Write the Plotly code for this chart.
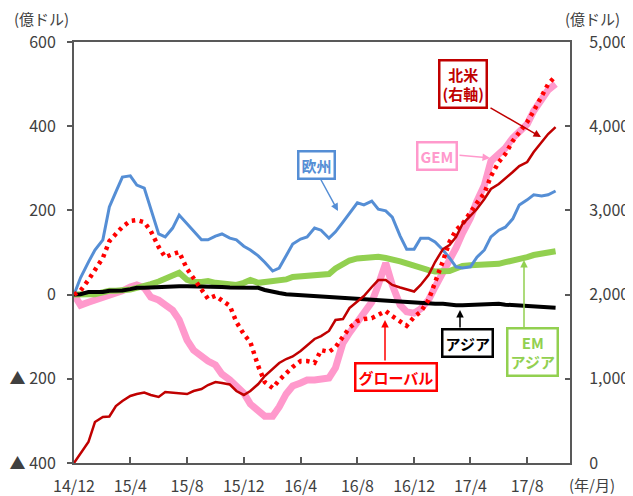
import pandas as pd
import plotly.graph_objects as go

# semi-monthly observations, Dec-2014 .. Oct-2017
dates = pd.date_range("2014-12-01", periods=69, freq="SMS")

europe = [0, 40, 77, 106, 130, 208, 244, 279, 282, 260, 253, 201, 144, 137, 158, 189, 168, 153, 130, 130,
          139, 144, 134, 130, 115, 106, 92, 77, 56, 63, 92, 120, 132, 137, 158, 153, 134, 149, 172, 194,
          218, 213, 222, 203, 199, 184, 139, 108, 108, 134, 134, 125, 106, 87, 66, 63, 66, 89, 106, 137,
          153, 160, 180, 213, 225, 237, 234, 237, 246]
global_ = [0, 9, 35, 58, 87, 127, 146, 161, 175, 177, 172, 151, 113, 89, 96, 101, 61, 39, 11, -10,
           -3, -15, -27, -65, -94, -113, -170, -208, -222, -203, -186, -172, -158, -158, -162, -132, -136, -125, -100, -79,
           -63, -58, -56, -48, -39, -51, -63, -74, -53, -41, -13, 27, 80, 125, 153, 168, 198, 218, 241, 281,
           315, 334, 365, 386, 410, 436, 472, 500, 519]
gem = [0, -25, -18, -13, -6, -3, 4, 9, 18, 23, 16, -6, -13, -22, -37, -60, -108, -132, -148, -158,
       -167, -189, -203, -220, -234, -260, -277, -289, -289, -267, -236, -217, -210, -203, -203, -200, -198, -174, -115, -91,
       -67, -46, -18, 23, 75, 23, -25, -41, -44, -34, -13, 18, 51, 77, 111, 146, 182, 222, 260, 317,
       336, 348, 372, 389, 405, 436, 462, 486, 500]
asia = [0, 1, 6, 6, 6, 9, 9, 10, 13, 16, 16, 17, 18, 18, 18, 20, 20, 20, 19, 18,
        18, 18, 17, 17, 17, 17, 16, 11, 6, 4, 1, 0, -1, -3, -5, -6, -7, -8, -9, -10,
        -10, -12, -13, -14, -15, -16, -18, -19, -20, -20, -21, -22, -22, -24, -25, -25, -24, -24, -22, -22,
        -22, -24, -25, -26, -27, -27, -28, -30, -31]
em_asia = [0, -1, 1, 1, 6, 9, 9, 9, 12, 16, 19, 25, 31, 38, 48, 52, 35, 30, 30, 32,
           28, 26, 25, 23, 28, 35, 28, 30, 32, 33, 36, 42, 44, 45, 47, 48, 49, 62, 74, 81,
           86, 87, 89, 90, 87, 85, 79, 74, 68, 63, 58, 55, 54, 56, 62, 68, 70, 70, 71, 73,
           73, 77, 80, 83, 89, 94, 98, 101, 103]
north_america = [0, 107, 249, 487, 546, 552, 677, 736, 796, 819, 837, 808, 784, 843, 837, 825, 819, 855, 879, 926,
                 962, 950, 932, 855, 808, 855, 938, 1033, 1116, 1188, 1235, 1265, 1330, 1401, 1473, 1508, 1568, 1698, 1710, 1841,
                 1924, 1983, 2090, 2173, 2173, 2114, 2084, 2060, 2037, 2114, 2233, 2387, 2541, 2589, 2684, 2838, 2933, 3016, 3135, 3254,
                 3313, 3385, 3456, 3527, 3575, 3693, 3812, 3907, 3990]

xtick_vals = ["2014-12-01", "2015-04-01", "2015-08-01", "2015-12-01", "2016-04-01",
              "2016-08-01", "2016-12-01", "2017-04-01", "2017-08-01"]
xtick_text = ["14/12", "15/4", "15/8", "15/12", "16/4", "16/8", "16/12", "17/4", "17/8"]
ytick_vals = [-400, -200, 0, 200, 400, 600]
ytick_text = ["▲ 400", "▲ 200", "0", "200", "400", "600"]
y2tick_vals = [0, 1000, 2000, 3000, 4000, 5000]

FONT = "Noto Sans CJK JP"
AX = "#595959"
TXT = "#404040"

fig = go.Figure()
fig.add_trace(go.Scatter(x=dates, y=gem, mode="lines", line=dict(color="#FF99CC", width=7), name="GEM"))
fig.add_trace(go.Scatter(x=dates, y=em_asia, mode="lines", line=dict(color="#92D050", width=6), name="EMアジア"))
fig.add_trace(go.Scatter(x=dates, y=asia, mode="lines", line=dict(color="#000000", width=4), name="アジア"))
fig.add_trace(go.Scatter(x=dates, y=europe, mode="lines", line=dict(color="#558ED5", width=3), name="欧州"))
fig.add_trace(go.Scatter(x=dates, y=global_, mode="lines",
                         line=dict(color="#FF0000", width=4.5, dash="3.5px,4.5px"), name="グローバル"))
fig.add_trace(go.Scatter(x=dates, y=north_america, mode="lines", yaxis="y2",
                         line=dict(color="#C00000", width=2.5), name="北米"))

# the page body adds an 8px offset; the figure is sized so it fills the 633x496 window
OFF = 8
FW, FH = 633 - OFF, 496 - OFF
L, R, T, B = 74, 570, 42, 463          # plot box in window pixels
W, H = R - L, B - T


def px(x):
    return (x - L) / W


def py(y):
    return (B - y) / H


def box(text, x, y, color):
    fig.add_annotation(x=px(x), y=py(y), xref="paper", yref="paper", text=text, showarrow=False,
                       font=dict(family=FONT, size=15, color=color, weight="bold"),
                       bgcolor="white", bordercolor=color, borderwidth=2.5, borderpad=2,
                       xanchor="center", yanchor="middle", align="center")


def arrow(x0, y0, x1, y1, color):
    fig.add_annotation(x=px(x1), y=py(y1), xref="paper", yref="paper", ax=x0 - x1, ay=y0 - y1,
                       text="", showarrow=True, arrowhead=2, arrowsize=1, arrowwidth=1.5,
                       arrowcolor=color, standoff=0, startstandoff=0)


arrow(320, 178, 338, 211, "#558ED5")
box("欧州", 316, 165, "#558ED5")
arrow(489, 107, 541, 137, "#C00000")
box("北米<br>(右軸)", 463, 84, "#C00000")
arrow(458, 155, 490, 158, "#FF99CC")
box("GEM", 437, 156, "#FF99CC")
arrow(385, 362, 385, 320, "#FF0000")
box("グローバル", 396, 377, "#FF0000")
arrow(460, 329, 460, 310, "#000000")
box("アジア", 467, 343, "#000000")
arrow(524, 332, 524, 260, "#92D050")
box("EM<br>アジア", 532, 352, "#92D050")

for text, x, y, anchor in [("(億ドル)", 12, 18, "left"), ("(億ドル)", 563, 18, "left"),
                           ("(年/月)", 567, 484, "left")]:
    fig.add_annotation(x=px(x), y=py(y), xref="paper", yref="paper", text=text, showarrow=False,
                       font=dict(family=FONT, size=15, color=TXT), xanchor=anchor, yanchor="middle")

fig.update_layout(
    width=FW, height=FH,
    margin=dict(l=L - OFF, r=FW - (R - OFF), t=T - OFF, b=FH - (B - OFF), autoexpand=False),
    paper_bgcolor="white", plot_bgcolor="white",
    showlegend=False,
    font=dict(family=FONT, size=16, color=TXT),
    xaxis=dict(range=["2014-12-01", "2017-11-01"], tickvals=xtick_vals, ticktext=xtick_text,
               automargin=False,
               showgrid=False, zeroline=False, showline=True, linecolor=AX, linewidth=2, mirror=True,
               ticks="inside", ticklen=6, tickcolor=AX, tickwidth=1.5, ticklabelstandoff=8,
               tickfont=dict(family=FONT, size=16, color=TXT)),
    yaxis=dict(range=[-400, 600], tickvals=ytick_vals, ticktext=ytick_text, automargin=False,
               showgrid=False, zeroline=False, showline=True, linecolor=AX, linewidth=2,
               ticks="outside", ticklen=5, tickcolor=AX, tickwidth=1.5, ticklabelstandoff=8,
               tickfont=dict(family=FONT, size=16, color=TXT)),
    yaxis2=dict(range=[0, 5000], tickvals=y2tick_vals, tickformat=",d", overlaying="y", side="right",
                automargin=False,
                showgrid=False, zeroline=False, showline=True, linecolor=AX, linewidth=2,
                ticks="inside", ticklen=5, tickcolor=AX, tickwidth=1.5, ticklabelstandoff=14,
                tickfont=dict(family=FONT, size=16, color=TXT)),
)

fig.write_html("out.html")
